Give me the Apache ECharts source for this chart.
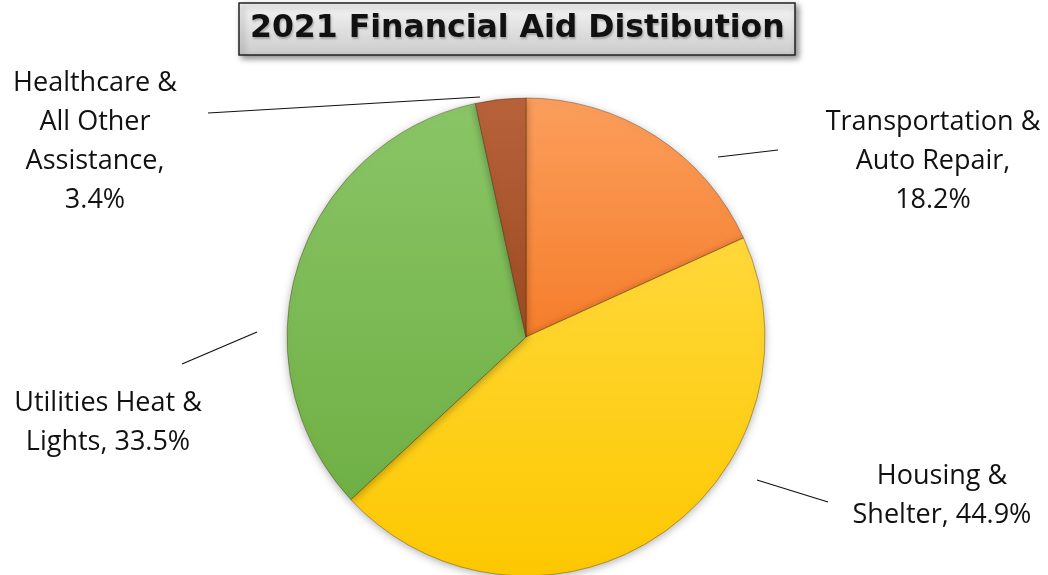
<!DOCTYPE html>
<html>
<head>
<meta charset="utf-8">
<script src="https://cdn.jsdelivr.net/npm/echarts@6/dist/echarts.min.js"></script>
<style>
html,body{margin:0;padding:0;background:#fff;}
#chart{width:1048px;height:575px;}
</style>
</head>
<body>
<div id="chart"></div>
<script>
const categories = ['Transportation &\nAuto Repair', 'Housing &\nShelter', 'Utilities Heat &\nLights', 'Healthcare &\nAll Other\nAssistance'];
const values = [18.2, 44.9, 33.5, 3.4];
const labelTexts = ['Transportation &\nAuto Repair,\n18.2%', 'Housing &\nShelter, 44.9%', 'Utilities Heat &\nLights, 33.5%', 'Healthcare &\nAll Other\nAssistance,\n3.4%'];

const sliceColors = [
  ['#FB9E5C', '#F57D2A'],
  ['#FFD83A', '#FDC800'],
  ['#8AC566', '#6FB045'],
  ['#B8623A', '#9C4A22']
];
const labelPlacement = [
  {x: 933, y: 161, line: [[778, 150], [718, 157]]},
  {x: 942, y: 496, line: [[828, 502], [757, 480]]},
  {x: 108, y: 423, line: [[182, 364], [257, 332]]},
  {x: 95, y: 142, line: [[208, 113], [480, 97]]}
];

const chart = echarts.init(document.getElementById('chart'));
chart.setOption({
  animation: false,
  title: {
    text: '2021 Financial Aid Distibution',
    left: 239,
    top: 3,
    padding: [6, 11, 6, 11],
    borderColor: '#222',
    borderWidth: 1.5,
    backgroundColor: {
      type: 'linear', x: 0, y: 0, x2: 0, y2: 1,
      colorStops: [{offset: 0, color: '#f6f6f6'}, {offset: 1, color: '#cbcbcb'}]
    },
    shadowBlur: 6,
    shadowColor: 'rgba(0,0,0,0.45)',
    shadowOffsetX: 3,
    shadowOffsetY: 3,
    textStyle: {
      fontFamily: 'DejaVu Sans',
      fontWeight: 'bold',
      fontSize: 31.5,
      lineHeight: 40,
      color: '#111',
      textShadowColor: 'rgba(0,0,0,0.25)',
      textShadowBlur: 2,
      textShadowOffsetX: 1,
      textShadowOffsetY: 2
    }
  },
  series: [{
    type: 'pie',
    center: [526, 337],
    radius: 239,
    startAngle: 90,
    clockwise: true,
    data: categories.map((c, i) => ({
      name: c,
      value: values[i],
      itemStyle: {
        color: {
          type: 'linear', x: 0, y: 0, x2: 0, y2: 1,
          colorStops: [{offset: 0, color: sliceColors[i][0]}, {offset: 1, color: sliceColors[i][1]}]
        }
      },
      label: {formatter: labelTexts[i]}
    })),
    itemStyle: {
      borderColor: 'rgba(60,30,0,0.35)',
      borderWidth: 1,
      shadowBlur: 8,
      shadowColor: 'rgba(0,0,0,0.3)',
      shadowOffsetY: 2
    },
    label: {
      show: true,
      position: 'outside',
      fontFamily: 'Open Sans',
      fontSize: 27,
      lineHeight: 39,
      color: '#111',
      align: 'center'
    },
    labelLine: {
      show: true,
      length: 20,
      length2: 20,
      lineStyle: {color: '#111', width: 1.2}
    },
    labelLayout: function (params) {
      const p = labelPlacement[params.dataIndex];
      return {
        x: p.x,
        y: p.y,
        align: 'center',
        verticalAlign: 'middle',
        labelLinePoints: [p.line[0], p.line[1], p.line[1]]
      };
    }
  }]
});
</script>
</body>
</html>
